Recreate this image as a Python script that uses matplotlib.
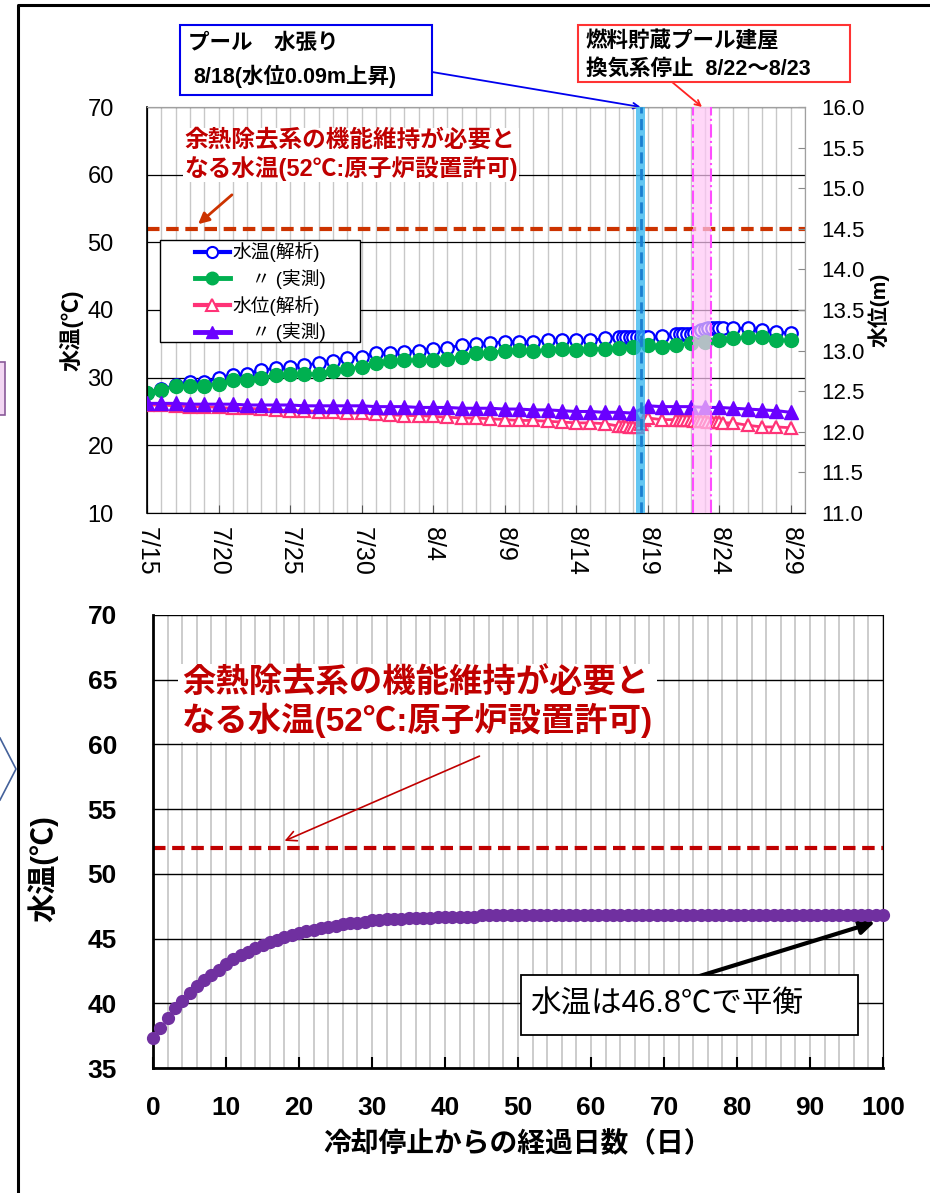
import matplotlib
matplotlib.use('Agg')
import matplotlib.pyplot as plt
from matplotlib.patches import Rectangle
from matplotlib.lines import Line2D
from matplotlib.ticker import FormatStrFormatter

plt.rcParams['font.family'] = ['Liberation Sans', 'Noto Sans CJK JP']

W, H = 930, 1193


def fx(px):
    return px / W


def fy(py):
    return 1 - py / H


# ---- top panel: pool water temp / level, 7/15 = day 0 ----
date_labels = ['7/15', '7/20', '7/25', '7/30', '8/4', '8/9', '8/14', '8/19', '8/24', '8/29']
date_days = [0, 5, 10, 15, 20, 25, 30, 35, 40, 45]

meas_days = list(range(46))
temp_meas = [27.8, 28.2, 28.7, 28.7, 28.8, 29.1, 29.6, 29.6, 30.0, 30.4,
             30.5, 30.5, 30.6, 31.0, 31.3, 31.6, 32.1, 32.4, 32.6, 32.6,
             32.6, 32.8, 33.1, 33.6, 33.7, 34.0, 34.1, 34.0, 34.1, 34.2,
             34.1, 34.3, 34.3, 34.4, 34.5, 34.8, 34.6, 34.8, 35.1, 35.3,
             35.5, 35.8, 36.0, 36.0, 35.5, 35.5]
level_meas = [12.35, 12.35, 12.35, 12.34, 12.34, 12.34, 12.34, 12.33, 12.33, 12.33,
              12.33, 12.32, 12.32, 12.32, 12.32, 12.32, 12.31, 12.31, 12.31, 12.30,
              12.30, 12.30, 12.29, 12.29, 12.29, 12.28, 12.28, 12.27, 12.27, 12.26,
              12.25, 12.25, 12.24, 12.24, 12.23, 12.32, 12.31, 12.31, 12.31, 12.30,
              12.30, 12.29, 12.28, 12.27, 12.26, 12.24]

calc_days = [0, 1, 2, 3, 4, 5, 6, 7, 8, 9, 10, 11, 12, 13, 14, 15, 16, 17, 18, 19,
             20, 21, 22, 23, 24, 25, 26, 27, 28, 29, 30, 31, 32, 33,
             33.25, 33.5, 33.75, 34, 34.25, 34.5, 34.75, 35, 36,
             37, 37.25, 37.5, 37.75, 38, 38.25, 38.5, 38.75, 39, 39.25, 39.5, 39.75,
             40, 40.25, 41, 42, 43, 44, 45]
temp_calc = [27.8, 28.3, 28.9, 29.3, 29.4, 29.9, 30.4, 30.6, 31.1, 31.4,
             31.6, 31.9, 32.1, 32.5, 32.9, 33.1, 33.6, 33.7, 33.8, 34.0,
             34.2, 34.4, 34.8, 35.0, 35.1, 35.3, 35.3, 35.3, 35.5, 35.6,
             35.5, 35.5, 35.8, 36.0,
             36.0, 36.0, 36.0, 36.0, 36.0, 36.0, 36.0, 36.0, 36.1,
             36.4, 36.4, 36.4, 36.4, 36.4, 36.6, 36.8, 37.0, 37.2, 37.3, 37.4, 37.4,
             37.4, 37.4, 37.3, 37.3, 37.0, 36.7, 36.6]
level_calc = [12.33, 12.33, 12.32, 12.31, 12.31, 12.30, 12.29, 12.29, 12.28, 12.27,
              12.26, 12.26, 12.25, 12.24, 12.23, 12.23, 12.22, 12.21, 12.20, 12.20,
              12.19, 12.18, 12.17, 12.17, 12.16, 12.15, 12.14, 12.14, 12.13, 12.12,
              12.11, 12.11, 12.10, 12.07,
              12.07, 12.07, 12.06, 12.06, 12.06, 12.10, 12.15, 12.17, 12.15,
              12.15, 12.15, 12.15, 12.14, 12.14, 12.13, 12.13, 12.13, 12.13, 12.12, 12.12, 12.12,
              12.12, 12.11, 12.11, 12.08, 12.06, 12.06, 12.05]

limit_temp = 52
pool_fill = (34.2, 34.8)
vent_stop = (38.2, 39.4)

# ---- bottom panel: predicted temp after cooling stop ----
days_after = list(range(101))
temp_pred = [37.3, 38.1, 38.9, 39.6, 40.2, 40.8, 41.3, 41.8, 42.2, 42.6,
             43.0, 43.4, 43.7, 44.0, 44.3, 44.5, 44.7, 44.9, 45.1, 45.3,
             45.4, 45.6, 45.7, 45.8, 45.9, 46.0, 46.1, 46.2, 46.2, 46.3,
             46.4, 46.4, 46.5, 46.5, 46.5, 46.6, 46.6, 46.6, 46.6, 46.7,
             46.7, 46.7, 46.7, 46.7, 46.7, 46.8, 46.8, 46.8, 46.8, 46.8,
             46.8, 46.8, 46.8, 46.8, 46.8, 46.8, 46.8, 46.8, 46.8, 46.8,
             46.8, 46.8, 46.8, 46.8, 46.8, 46.8, 46.8, 46.8, 46.8, 46.8,
             46.8, 46.8, 46.8, 46.8, 46.8, 46.8, 46.8, 46.8, 46.8, 46.8,
             46.8, 46.8, 46.8, 46.8, 46.8, 46.8, 46.8, 46.8, 46.8, 46.8,
             46.8, 46.8, 46.8, 46.8, 46.8, 46.8, 46.8, 46.8, 46.8, 46.8,
             46.8]

limit_text = '余熱除去系の機能維持が必要と\nなる水温(52℃:原子炉設置許可)'

fig = plt.figure(figsize=(9.3, 11.93), dpi=100)

# slide frame bits
fig.add_artist(Line2D([fx(18), fx(18), fx(930)], [fy(1193), fy(5), fy(5)],
                      transform=fig.transFigure, color='black', lw=2.2))
fig.add_artist(Rectangle((fx(-10), fy(415)), fx(15), (415 - 362) / H, transform=fig.transFigure,
                         facecolor='#f3d7f3', edgecolor='#8a5a9a', lw=1.2))
fig.add_artist(Line2D([fx(0), fx(16), fx(0)], [fy(738), fy(769), fy(800)],
                      transform=fig.transFigure, color='#44619a', lw=1.2))

# ================= top panel =================
ax = fig.add_axes([fx(147), fy(513), (805 - 147) / W, (513 - 107) / H])
ax.set_xlim(0, 46)
ax.set_ylim(10, 70)
ax.set_yticks(range(10, 71, 10))
ax.set_xticks(date_days)
ax.set_xticklabels(date_labels, rotation=270, fontsize=18)
ax.set_xticks(range(0, 47), minor=True)
ax.grid(axis='x', which='both', color='#c8c8c8', lw=1)
ax.grid(axis='y', which='major', color='black', lw=0.9)
ax.set_axisbelow(True)
ax.tick_params(axis='x', which='major', direction='in', length=6, color='#555555', pad=10)
ax.tick_params(axis='x', which='minor', length=0)
ax.tick_params(axis='y', length=0, labelsize=17, pad=24)
for s in ['top', 'right']:
    ax.spines[s].set_color('#a0a0a0')
ax.spines['left'].set_linewidth(1.2)
ax.spines['bottom'].set_color('#555555')

ax.axhline(limit_temp, color='#cc3300', lw=3, ls=(0, (3, 1.6)), zorder=2)
ax.plot(calc_days, temp_calc, '-o', color='#0000ff', mfc='white', mec='#0000ff',
        ms=9, mew=1.6, lw=2, zorder=3)
ax.plot(meas_days, temp_meas, '-o', color='#00b050', ms=10, lw=2.2, zorder=4)
ax.set_ylabel('水温(℃)', fontsize=16, fontweight='bold')
ax.yaxis.set_label_coords(-0.097, 0.45)

ax2 = ax.twinx()
ax2.set_ylim(11, 16)
ax2.set_yticks([11 + 0.5 * i for i in range(11)])
ax2.yaxis.set_major_formatter(FormatStrFormatter('%.1f'))
ax2.tick_params(axis='y', direction='in', length=5, color='#888888', labelsize=16, pad=12)
ax2.spines['right'].set_color('#a0a0a0')
ax2.spines['top'].set_color('#a0a0a0')
ax2.plot(calc_days, level_calc, '-^', color='#ff3377', mfc='white', mec='#ff3377',
         ms=9, mew=1.6, lw=2, zorder=3)
ax2.plot(meas_days, level_meas, '-^', color='#6a00ff', ms=10, lw=2.2, zorder=4)
ax2.set_ylabel('水位(m)', fontsize=15, fontweight='bold', rotation=90)
ax2.yaxis.set_label_coords(1.096, 0.5)

# event bands
ax2.axvspan(*pool_fill, color='#2fb4ee', alpha=0.75, lw=0, zorder=6)
ax2.axvline(sum(pool_fill) / 2, color='#1a7fd0', lw=2, ls=(0, (4, 2)), zorder=7)
ax2.axvspan(*vent_stop, color='#ffc6f6', alpha=0.7, lw=0, zorder=6)
for xv in vent_stop:
    ax2.axvline(xv, color='#ff4cff', lw=1.5, ls='-.', zorder=7)

# legend: frame drawn separately (handles sit well inside the box)
fig.add_artist(Rectangle((fx(160), fy(342)), (360 - 160) / W, (342 - 240) / H,
                         transform=fig.transFigure, facecolor='white', edgecolor='black',
                         lw=1, zorder=2))
handles = [
    Line2D([], [], color='#0000ff', marker='o', mfc='white', mec='#0000ff', ms=8, mew=1.5, lw=3),
    Line2D([], [], color='#00b050', marker='o', ms=9, lw=3.5),
    Line2D([], [], color='#ff3377', marker='^', mfc='white', mec='#ff3377', ms=8, mew=1.5, lw=3),
    Line2D([], [], color='#6a00ff', marker='^', ms=9, lw=3.5),
]
labels = ['水温(解析)', '　〃 (実測)', '水位(解析)', '　〃 (実測)']
leg = fig.legend(handles, labels, loc='upper left', bbox_to_anchor=(fx(195), fy(242)),
                 frameon=False, borderaxespad=0, borderpad=0, fontsize=13.5,
                 handlelength=1.85, labelspacing=0.36, handletextpad=0.15)
leg.set_zorder(3)

fig.text(fx(184), fy(155), limit_text, fontsize=17, fontweight='bold', color='#c00000',
         va='center', ha='left', linespacing=1.2,
         bbox=dict(facecolor='white', edgecolor='none', pad=1))
ax.annotate('', xy=(fx(196), fy(226)), xycoords='figure fraction',
            xytext=(fx(234), fy(193)), textcoords='figure fraction',
            arrowprops=dict(arrowstyle='-|>', color='#cc3300', lw=2, mutation_scale=16))

# callout boxes above the top panel
fig.add_artist(Rectangle((fx(180), fy(95)), (432 - 180) / W, (95 - 25) / H, transform=fig.transFigure,
                         facecolor='white', edgecolor='#0000ee', lw=1.5))
fig.text(fx(188), fy(43), 'プール　水張り', fontsize=15.5, fontweight='bold', va='center')
fig.text(fx(193), fy(76), '8/18(水位0.09m上昇)', fontsize=15.5, fontweight='bold', va='center')
fig.add_artist(Rectangle((fx(578), fy(82)), (850 - 578) / W, (82 - 25) / H, transform=fig.transFigure,
                         facecolor='white', edgecolor='#ff3333', lw=1.5))
fig.text(fx(586), fy(42), '燃料貯蔵プール建屋', fontsize=15.5, fontweight='bold', va='center')
fig.text(fx(586), fy(69), '換気系停止  8/22〜8/23', fontsize=15.5, fontweight='bold', va='center')
ax.annotate('', xy=(sum(pool_fill) / 2, 70), xycoords='data',
            xytext=(fx(432), fy(72)), textcoords='figure fraction', annotation_clip=False,
            arrowprops=dict(arrowstyle='->', color='#0000ee', lw=1.3, shrinkA=0, shrinkB=0))
ax.annotate('', xy=(38.8, 70), xycoords='data',
            xytext=(fx(672), fy(82)), textcoords='figure fraction', annotation_clip=False,
            arrowprops=dict(arrowstyle='->', color='#ff2222', lw=1.3, shrinkA=0, shrinkB=0))

# ================= bottom panel =================
bx = fig.add_axes([fx(153), fy(1068), (883 - 153) / W, (1068 - 615) / H])
bx.set_xlim(0, 100)
bx.set_ylim(35, 70)
bx.set_yticks(range(35, 71, 5))
bx.set_xticks(range(0, 101, 10))
bx.set_xticks(range(0, 101, 2), minor=True)
bx.grid(axis='x', which='both', color='#c4c4c4', lw=1.2)
bx.grid(axis='y', which='major', color='black', lw=1)
bx.set_axisbelow(True)
bx.tick_params(axis='x', which='major', direction='in', length=8, width=1.5, pad=20)
bx.tick_params(axis='x', which='minor', length=0)
bx.tick_params(axis='y', length=0, pad=26)
for lab in bx.get_xticklabels() + bx.get_yticklabels():
    lab.set_fontsize(19)
    lab.set_fontweight('bold')
for s in ['left', 'bottom']:
    bx.spines[s].set_linewidth(2)
bx.spines['top'].set_visible(False)

bx.axhline(limit_temp, color='#c00000', lw=3, ls=(0, (3, 1.6)), zorder=2)
bx.plot(days_after, temp_pred, 'o', color='#7030a0', ms=8.5, clip_on=False, zorder=4)
bx.set_xlabel('冷却停止からの経過日数（日）', fontsize=20, fontweight='bold', labelpad=8)
bx.set_ylabel('水温(℃)', fontsize=21, fontweight='bold')
bx.yaxis.set_label_coords(-0.13, 0.44)

fig.text(fx(182), fy(703), limit_text, fontsize=24, fontweight='bold', color='#c00000',
         va='center', ha='left', linespacing=1.1,
         bbox=dict(facecolor='white', edgecolor='none', pad=3))
bx.annotate('', xy=(fx(282), fy(842)), xycoords='figure fraction',
            xytext=(fx(482), fy(755)), textcoords='figure fraction',
            arrowprops=dict(arrowstyle='->', color='#c00000', lw=1.2, mutation_scale=18))

fig.add_artist(Rectangle((fx(521), fy(1035)), (858 - 521) / W, (1035 - 975) / H, transform=fig.transFigure,
                         facecolor='white', edgecolor='black', lw=1.3))
fig.text(fx(530), fy(1005), '水温は46.8℃で平衡', fontsize=22, va='center')
bx.annotate('', xy=(fx(875), fy(922)), xycoords='figure fraction',
            xytext=(fx(690), fy(979)), textcoords='figure fraction',
            arrowprops=dict(arrowstyle='-|>', color='black', lw=3, mutation_scale=22, shrinkA=0, shrinkB=0))

fig.savefig('out.png', dpi=100)
